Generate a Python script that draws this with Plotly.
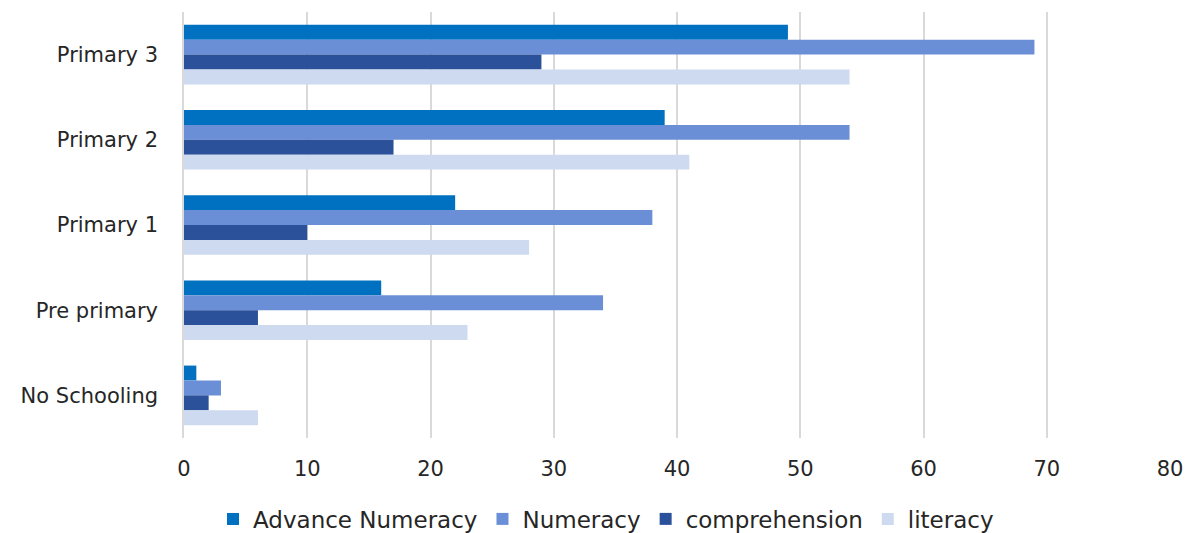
import plotly.graph_objects as go

categories = ["Primary 3", "Primary 2", "Primary 1", "Pre primary", "No Schooling"]
advance_numeracy = [49, 39, 22, 16, 1]
numeracy = [69, 54, 38, 34, 3]
comprehension = [29, 17, 10, 6, 2]
literacy = [54, 41, 28, 23, 6]

series = [
    ("Advance Numeracy", advance_numeracy, "#0070C0"),
    ("Numeracy", numeracy, "#6A8FD6"),
    ("comprehension", comprehension, "#2A519A"),
    ("literacy", literacy, "#CDDAF0"),
]

fig = go.Figure()
for name, vals, color in series:
    fig.add_trace(go.Bar(y=categories, x=vals, name=name, orientation="h",
                         marker=dict(color=color, line=dict(width=0))))

font_family = "DejaVu Sans, sans-serif"
fs = 21
fig.update_layout(
    width=1188, height=533,
    barmode="group", bargap=0.3, bargroupgap=0,
    plot_bgcolor="white", paper_bgcolor="white",
    margin=dict(l=184, r=18, t=12, b=95, autoexpand=False),
    font=dict(family=font_family, size=fs, color="#262626"),
    xaxis=dict(range=[0, 80], dtick=10, showgrid=True, gridcolor="#D9D9D9", gridwidth=1.5,
               zeroline=False, showline=False, ticks="", tickfont=dict(size=fs, color="#262626"),
               ticklabelstandoff=16, automargin=False, fixedrange=True),
    yaxis=dict(autorange="reversed", showgrid=False, showline=True, linecolor="#D9D9D9", linewidth=1.5,
               ticks="", ticklabelstandoff=20, automargin=False,
               tickfont=dict(size=fs, color="#262626")),
    legend=dict(orientation="h", x=0.428, xanchor="center", y=-0.19, yanchor="middle",
                font=dict(size=23, color="#262626"), itemwidth=30, traceorder="normal"),
)
fig.write_html("out.html", config={"displayModeBar": False},
               post_script="document.body.style.margin='0';document.body.style.padding='0';")
